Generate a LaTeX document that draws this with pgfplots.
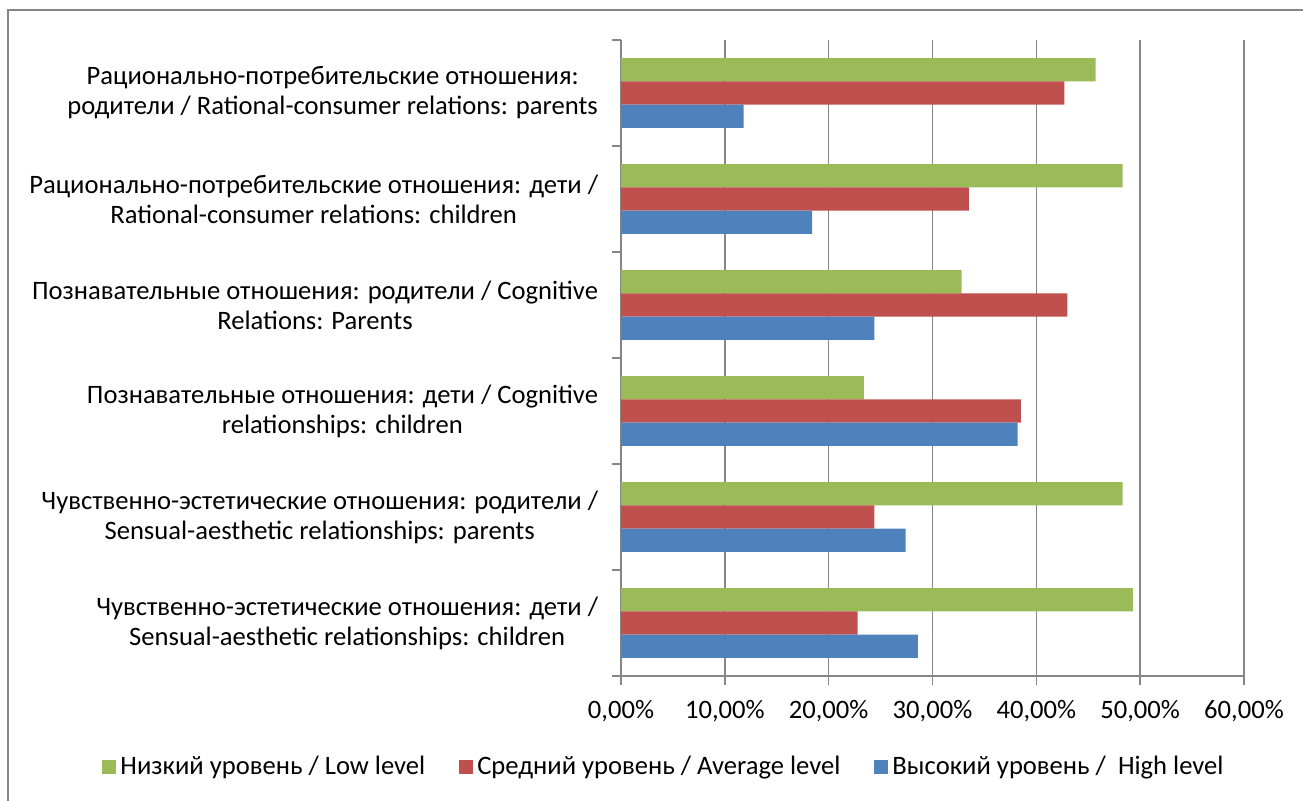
\documentclass[border=0pt]{standalone}
\usepackage{fontspec}
\setmainfont{Carlito}
\usepackage{pgfplots}
\pgfplotsset{compat=1.18}
\definecolor{cgreen}{RGB}{155,187,89}
\definecolor{cred}{RGB}{192,80,77}
\definecolor{cblue}{RGB}{79,129,189}
\definecolor{cgrid}{RGB}{134,134,134}
\begin{document}
\begin{tikzpicture}[font=\fontsize{13.3}{15}\selectfont]
\path[use as bounding box] (0,0) rectangle (651.5pt,400pt);
\draw[cgrid, line width=0.75pt] (4pt,-20pt) rectangle (700pt,395pt);
\begin{axis}[
  at={(310.5pt,62pt)}, anchor=south west,
  scale only axis, width=311.5pt, height=318pt,
  xbar, bar width=0.22,
  xmin=0, xmax=60, ymin=-0.5, ymax=5.5,
  xtick={0,10,...,60},
  xticklabels={{0,00\%},{10,00\%},{20,00\%},{30,00\%},{40,00\%},{50,00\%},{60,00\%}},
  xmajorgrids, grid style={cgrid, line width=0.75pt},
  axis x line*=bottom, axis y line*=left,
  axis line style={cgrid, line width=0.75pt, -},
  tick align=outside,
  x tick style={cgrid, line width=0.75pt},
  major tick length=4.5pt,
  x tick label style={font=\fontsize{13.3}{15}\selectfont, yshift=-4pt},
  ytick={-0.5,0.5,...,5.5}, yticklabels={},
  y tick style={cgrid, line width=0.75pt},
  extra y ticks={0,1,2,3,4,5},
  extra y tick style={major tick length=0pt},
  extra y tick labels={
    {Чувственно-эстетические отношения: дети /\\Sensual-aesthetic relationships: children},
    {Чувственно-эстетические отношения: родители /\\Sensual-aesthetic relationships: parents},
    {Познавательные отношения: дети / Cognitive\\relationships: children},
    {Познавательные отношения: родители / Cognitive\\Relations: Parents},
    {Рационально-потребительские отношения: дети /\\Rational-consumer relations: children},
    {Рационально-потребительские отношения:\\родители / Rational-consumer relations: parents}},
  y tick label style={align=center, font=\fontsize{13.3}{15}\selectfont, xshift=-8pt},
  legend columns=3,
  legend style={draw=none, at={(0.0706,-0.143)}, anchor=center,
    font=\fontsize{13.3}{15}\selectfont,
    /tikz/every even column/.append style={column sep=15pt}},
  legend image code/.code={\fill[#1] (0pt,-3.5pt) rectangle (7pt,3.5pt);},
]
\addplot[fill=cgreen, draw=none, bar shift=0.22] coordinates {
  (49.3,0) (48.3,1) (23.4,2) (32.8,3) (48.3,4) (45.7,5)};
\addlegendentry{Низкий уровень / Low level}
\addplot[fill=cred, draw=none, bar shift=0] coordinates {
  (22.8,0) (24.4,1) (38.5,2) (43.0,3) (33.5,4) (42.7,5)};
\addlegendentry{Средний уровень / Average level}
\addplot[fill=cblue, draw=none, bar shift=-0.22] coordinates {
  (28.6,0) (27.4,1) (38.2,2) (24.4,3) (18.4,4) (11.8,5)};
\addlegendentry{Высокий уровень /\ \ High level}
\end{axis}
\end{tikzpicture}
\end{document}
